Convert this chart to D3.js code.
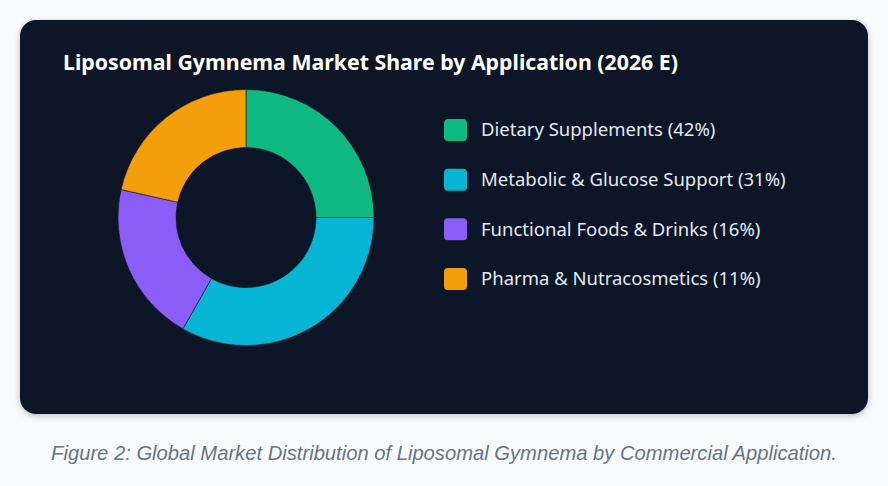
<!DOCTYPE html>
<html>
<head>
<meta charset="utf-8">
<script src="https://cdn.jsdelivr.net/npm/d3@7"></script>
<style>
  html, body { margin: 0; padding: 0; background: #f8fafc; }
  body { width: 888px; height: 486px; overflow: hidden; }
  svg { display: block; }
</style>
</head>
<body>
<div id="chart"></div>
<script>
// categories, shares drawn in the ring, and the shares printed in the legend
const categories = ['Dietary Supplements', 'Metabolic & Glucose Support', 'Functional Foods & Drinks', 'Pharma & Nutracosmetics'];
const sliceShares = [25, 33.2, 20.3, 21.5];
const legendPct = [42, 31, 16, 11];
const colors = ['#10b981', '#06b6d4', '#8b5cf6', '#f59e0b'];
const title = 'Liposomal Gymnema Market Share by Application (2026 E)';
const caption = 'Figure 2: Global Market Distribution of Liposomal Gymnema by Commercial Application.';

const W = 888, H = 486;

let svg = d3.select('#chart').append('svg').attr('width', W).attr('height', H);

let defs = svg.append('defs');
let shadow = defs.append('filter').attr('id', 'shadow').attr('x', '-10%').attr('y', '-10%').attr('width', '120%').attr('height', '130%');
shadow.append('feDropShadow').attr('dx', 0).attr('dy', 2).attr('stdDeviation', 3).attr('flood-color', '#0f172a').attr('flood-opacity', 0.25);

// card
svg.append('rect')
  .attr('x', 20).attr('y', 20).attr('width', 848).attr('height', 394)
  .attr('rx', 16).attr('fill', '#111827')
  .attr('filter', 'url(#shadow)');

svg.append('text')
  .attr('x', 63).attr('y', 70)
  .attr('fill', '#ffffff')
  .style('font-family', '"Noto Sans", "Open Sans", sans-serif')
  .style('font-weight', 700)
  .style('font-size', '21.3px')
  .text(title);

// donut
let pie = d3.pie().sort(null).value(d => d);
let arc = d3.arc().innerRadius(70).outerRadius(128);

let ring = svg.append('g').attr('transform', 'translate(246,217.5)');
ring.selectAll('path')
  .data(pie(sliceShares))
  .enter()
  .append('path')
  .attr('d', arc)
  .attr('fill', (d, i) => colors[i])
  .attr('stroke', '#111827')
  .attr('stroke-width', 0.6);

// legend
let legendY = d3.scalePoint().domain(categories).range([130, 279]);

let legend = svg.append('g');
let item = legend.selectAll('g')
  .data(categories)
  .enter()
  .append('g')
  .attr('transform', d => `translate(444,${legendY(d)})`);

item.append('rect')
  .attr('x', 0).attr('y', -11)
  .attr('width', 23).attr('height', 22)
  .attr('rx', 4)
  .attr('fill', (d, i) => colors[i]);

item.append('text')
  .attr('x', 37).attr('y', 0)
  .attr('dy', '0.35em')
  .attr('fill', '#e2e8f0')
  .style('font-family', '"Noto Sans", "Open Sans", sans-serif')
  .style('font-size', '18.5px')
  .text((d, i) => `${d} (${legendPct[i]}%)`);

svg.append('text')
  .attr('x', W / 2).attr('y', 460)
  .attr('text-anchor', 'middle')
  .attr('fill', '#64748b')
  .style('font-family', '"Liberation Sans", Arial, sans-serif')
  .style('font-style', 'italic')
  .style('font-size', '20.2px')
  .text(caption);
</script>
</body>
</html>
